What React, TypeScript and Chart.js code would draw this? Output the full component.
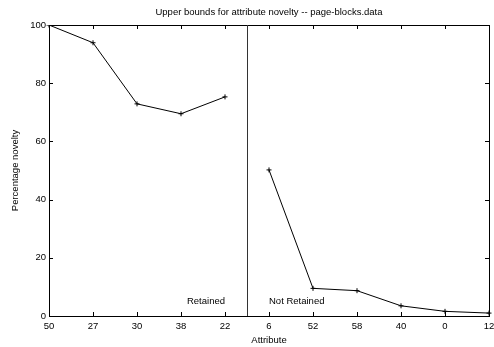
import React, { useEffect, useRef } from "react";
import { Chart, registerables } from "chart.js";

Chart.register(...registerables);

const attributes = ["50", "27", "30", "38", "22", "6", "52", "58", "40", "0", "12"];
const retainedValues = [100, 93.9, 72.9, 69.5, 75.3];
const notRetainedValues = [50.2, 9.5, 8.7, 3.5, 1.6, 1.0];
const yTicks = [0, 20, 40, 60, 80, 100];
const titleText = "Upper bounds for attribute novelty -- page-blocks.data";
const xTitle = "Attribute";
const yTitle = "Percentage novelty";
const groupLabels = ["Retained", "Not Retained"];

const FONT = "'Liberation Sans', Arial, sans-serif";
const FS = 9.5;

const framePlugin = {
  id: "frame",
  afterDraw(chart: any) {
    const { ctx, chartArea, scales } = chart;
    const x = scales.x;
    const y = scales.y;
    const { left, right, top, bottom } = chartArea;
    ctx.save();
    ctx.strokeStyle = "#000";
    ctx.lineWidth = 1;
    ctx.strokeRect(Math.round(left) + 0.5, Math.round(top) + 0.5, Math.round(right - left), Math.round(bottom - top));
    const t = 4;
    ctx.beginPath();
    attributes.forEach((_, i) => {
      const px = Math.round(x.getPixelForValue(i)) + 0.5;
      ctx.moveTo(px, bottom);
      ctx.lineTo(px, bottom - t);
      ctx.moveTo(px, top);
      ctx.lineTo(px, top + t);
    });
    yTicks.forEach((v) => {
      const py = Math.round(y.getPixelForValue(v)) + 0.5;
      ctx.moveTo(left, py);
      ctx.lineTo(left + t, py);
      ctx.moveTo(right, py);
      ctx.lineTo(right - t, py);
    });
    ctx.stroke();
    // separator
    const sx = Math.round((x.getPixelForValue(retainedValues.length - 1) + x.getPixelForValue(retainedValues.length)) / 2) + 0.5;
    ctx.strokeStyle = "#333";
    ctx.beginPath();
    ctx.moveTo(sx, top);
    ctx.lineTo(sx, bottom);
    ctx.stroke();
    // group labels
    ctx.fillStyle = "#000";
    ctx.font = `${FS}px ${FONT}`;
    ctx.textBaseline = "middle";
    const ly = y.getPixelForValue(5);
    ctx.textAlign = "right";
    ctx.fillText(groupLabels[0], x.getPixelForValue(retainedValues.length - 1), ly);
    ctx.textAlign = "left";
    ctx.fillText(groupLabels[1], x.getPixelForValue(retainedValues.length), ly);
    // title
    ctx.textAlign = "center";
    ctx.fillText(titleText, (left + right) / 2, 12.5);
    ctx.restore();
  },
};

export default function App() {
  const ref = useRef<HTMLCanvasElement | null>(null);
  useEffect(() => {
    document.body.style.margin = "0";
    const ds1 = [...retainedValues, ...Array(attributes.length - retainedValues.length).fill(null)];
    const ds2 = [...Array(attributes.length - notRetainedValues.length).fill(null), ...notRetainedValues];
    const chart = new Chart(ref.current as HTMLCanvasElement, {
      type: "line",
      data: {
        labels: attributes,
        datasets: [
          { data: ds1, borderColor: "#000", borderWidth: 1, pointStyle: "cross", pointRadius: 2.5, pointBorderColor: "#000", pointBorderWidth: 1, fill: false, tension: 0 },
          { data: ds2, borderColor: "#000", borderWidth: 1, pointStyle: "cross", pointRadius: 2.5, pointBorderColor: "#000", pointBorderWidth: 1, fill: false, tension: 0 },
        ],
      },
      options: {
        animation: false,
        responsive: false,
        layout: { padding: { top: 25, right: 5, left: 0, bottom: 0 } },
        plugins: { legend: { display: false }, tooltip: { enabled: false }, title: { display: false } },
        scales: {
          x: {
            type: "category",
            offset: false,
            grid: { display: false, drawTicks: false },
            border: { display: false },
            ticks: { color: "#000", font: { family: FONT, size: FS }, padding: 5, maxRotation: 0, autoSkip: false },
            title: { display: true, text: xTitle, color: "#000", font: { family: FONT, size: FS }, padding: { top: 0, bottom: 1 } },
            afterFit: (s: any) => { s.height = 31; s.paddingLeft = 0; s.paddingRight = 0; },
          },
          y: {
            min: 0,
            max: 100,
            grid: { display: false, drawTicks: false },
            border: { display: false },
            ticks: { stepSize: 20, color: "#000", font: { family: FONT, size: FS }, padding: 3 },
            title: { display: true, text: yTitle, color: "#000", font: { family: FONT, size: FS }, padding: { top: 10, bottom: 0 } },
            afterFit: (s: any) => { s.width = 49; s.paddingTop = 0; s.paddingBottom = 0; },
          },
        },
      },
      plugins: [framePlugin],
    });
    return () => chart.destroy();
  }, []);
  return <canvas ref={ref} width={494} height={347} style={{ display: "block" }} />;
}
